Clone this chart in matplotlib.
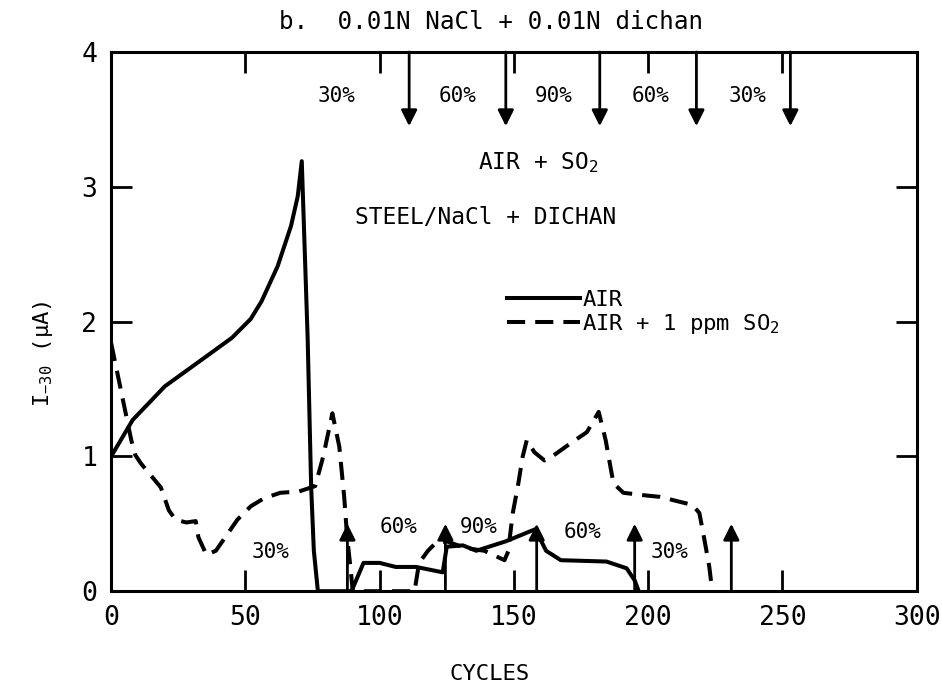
import matplotlib
matplotlib.use('Agg')

import matplotlib.pyplot as plt
import numpy as np

plt.rcParams['font.family'] = 'DejaVu Sans Mono'
plt.rcParams['mathtext.fontset'] = 'custom'
plt.rcParams['mathtext.rm'] = 'DejaVu Sans Mono'
plt.rcParams['mathtext.default'] = 'regular'

# --- data ---
air_x = [0, 8, 20, 36, 45, 52, 56, 62, 67, 69.5, 71, 73.2, 74.5, 75.5, 77,
         89.5, 90.8, 94, 100, 106, 113.6, 123.5, 125, 131, 136, 147, 158,
         162, 167.5, 184.5, 192, 195, 196.5]
air_y = [1.0, 1.27, 1.52, 1.75, 1.88, 2.02, 2.15, 2.41, 2.71, 2.93, 3.19, 1.87, 0.77, 0.3, 0.0,
         0.0, 0.06, 0.21, 0.21, 0.18, 0.18, 0.14, 0.33, 0.34, 0.30, 0.37, 0.46,
         0.30, 0.23, 0.22, 0.17, 0.08, 0.0]

so2_x = [0, 7.5, 9, 11, 18.5, 21.5, 24, 28, 31.5, 32.5, 35.5, 39, 47, 52, 57, 63, 70,
         76, 79, 82.4, 85, 86.8, 87.9, 89, 90, 113, 114.7, 118, 121, 125, 132,
         139, 146.5, 148, 148.5, 149.6, 151.5, 153.3, 154.8, 157.7, 161.4, 164.3,
         171.3, 177.2, 181.6, 184.2, 186, 187.1, 190.8, 199.3, 204.4, 216.5,
         219.1, 221, 222.8, 223.9]
so2_y = [1.84, 1.12, 1.01, 0.95, 0.77, 0.6, 0.53, 0.51, 0.52, 0.40, 0.27, 0.30, 0.53, 0.63, 0.69, 0.73, 0.74,
         0.78, 1.0, 1.32, 1.07, 0.70, 0.40, 0.20, 0.0, 0.0, 0.21, 0.30, 0.36, 0.37, 0.32,
         0.30, 0.23, 0.30, 0.40, 0.58, 0.78, 1.0, 1.12, 1.03, 0.97, 1.0,
         1.10, 1.18, 1.33, 1.12, 0.92, 0.80, 0.73, 0.71, 0.70, 0.64,
         0.58, 0.38, 0.18, 0.0]

# humidity change markers
top_arrow_x = [111, 147, 182, 218, 253]
top_label_x = [84, 129, 165, 201, 237]
top_labels = ['30%', '60%', '90%', '60%', '30%']

bot_arrow_x = [88, 124.5, 158.5, 195, 231]
bot_label_x = [59.5, 107, 137, 175.5, 208]
bot_label_y = [0.29, 0.48, 0.48, 0.44, 0.29]
bot_labels = ['30%', '60%', '90%', '60%', '30%']

x_ticks = [0, 50, 100, 150, 200, 250, 300]
y_ticks = [0, 1, 2, 3, 4]

# --- plotting ---
fig = plt.figure(figsize=(9.42, 6.98), dpi=100)
ax = fig.add_axes([0.118, 0.153, 0.855, 0.7725])

ax.plot(air_x, air_y, color='black', lw=2.9, solid_joinstyle='round', label='AIR')
ax.plot(so2_x, so2_y, color='black', lw=2.9, linestyle=(0, (4.5, 2.5)),
        label='AIR + 1 ppm SO$_2$')

for x in top_arrow_x:
    ax.annotate('', xy=(x, 3.45), xytext=(x, 4.0),
                arrowprops=dict(arrowstyle='-|>', color='black', lw=2, mutation_scale=24,
                                shrinkA=0, shrinkB=0))
for x, t in zip(top_label_x, top_labels):
    ax.text(x, 3.67, t, ha='center', va='center', fontsize=15)

for x in bot_arrow_x:
    ax.annotate('', xy=(x, 0.5), xytext=(x, 0.0),
                arrowprops=dict(arrowstyle='-|>', color='black', lw=2, mutation_scale=24,
                                shrinkA=0, shrinkB=0))
for x, y, t in zip(bot_label_x, bot_label_y, bot_labels):
    ax.text(x, y, t, ha='center', va='center', fontsize=15)

ax.text(159, 3.18, 'AIR + SO$_2$', ha='center', va='center', fontsize=16.5)
ax.text(139.5, 2.77, 'STEEL/NaCl + DICHAN', ha='center', va='center', fontsize=16.5)

ax.set_xlim(0, 300)
ax.set_ylim(0, 4)
ax.set_xticks(x_ticks)
ax.set_yticks(y_ticks)
ax.tick_params(direction='in', length=15, width=2, top=True, right=True,
               labelsize=19, pad=10)
for s in ax.spines.values():
    s.set_linewidth(2.2)

ax.set_xlabel('CYCLES', fontsize=16)
ax.xaxis.set_label_coords(0.47, -0.135)
ax.set_ylabel('I$_{-30}$ (μA)', fontsize=16)
ax.yaxis.set_label_coords(-0.07, 0.44)

ax.legend(loc='upper left', bbox_to_anchor=(0.48, 0.575), frameon=False, fontsize=16,
          handlelength=3.3, handletextpad=0.1, labelspacing=0.1, borderaxespad=0)

fig.text(0.521, 0.969, 'b.  0.01N NaCl + 0.01N dichan', ha='center', va='center', fontsize=17.5)

plt.savefig('out.png', dpi=100)
